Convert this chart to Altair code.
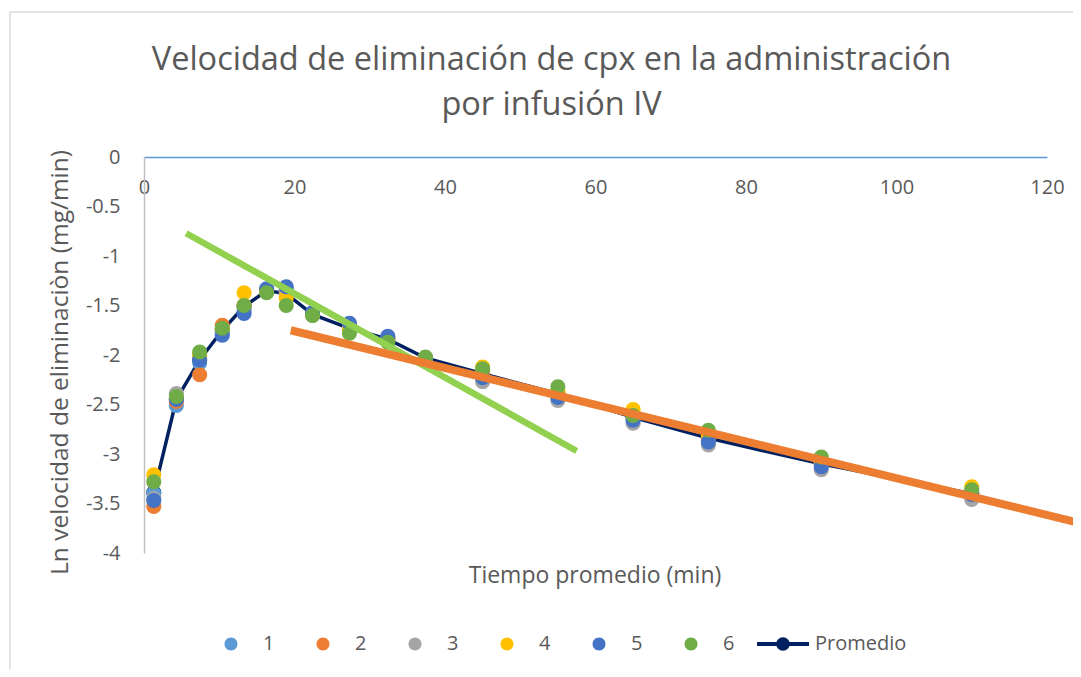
import altair as alt
import pandas as pd

# ---- data ----
times = [1.3, 4.3, 7.4, 10.4, 13.3, 16.3, 18.9, 22.4, 27.3, 32.4, 37.4, 45, 55, 65, 75, 90, 110]
series_names = ["1", "2", "3", "4", "5", "6"]
s1 = [-3.40, -2.51, -2.08, -1.77, -1.55, -1.34, -1.33, -1.58, -1.70, -1.82, -2.03, -2.20, -2.40, -2.64, -2.86, -3.10, -3.42]
s2 = [-3.53, -2.47, -2.20, -1.70, -1.50, -1.35, -1.36, -1.59, -1.74, -1.83, -2.03, -2.18, -2.38, -2.63, -2.83, -3.09, -3.40]
s3 = [-3.45, -2.39, -2.01, -1.74, -1.52, -1.35, -1.38, -1.60, -1.75, -1.86, -2.04, -2.27, -2.46, -2.69, -2.91, -3.16, -3.46]
s4 = [-3.21, -2.44, -2.00, -1.74, -1.37, -1.36, -1.42, -1.59, -1.74, -1.85, -2.03, -2.12, -2.36, -2.55, -2.80, -3.08, -3.33]
s5 = [-3.47, -2.45, -2.05, -1.80, -1.58, -1.33, -1.31, -1.57, -1.68, -1.81, -2.03, -2.23, -2.43, -2.66, -2.88, -3.13, -3.41]
s6 = [-3.28, -2.42, -1.97, -1.73, -1.50, -1.37, -1.50, -1.60, -1.78, -1.87, -2.02, -2.14, -2.32, -2.61, -2.76, -3.03, -3.36]
promedio = [-3.39, -2.45, -2.05, -1.75, -1.51, -1.35, -1.38, -1.59, -1.73, -1.84, -2.03, -2.19, -2.39, -2.63, -2.84, -3.10, -3.40]

trend_fast_t = [5.6, 57.5]
trend_fast_v = [-0.77, -2.97]
trend_slow_t = [19.5, 124.5]
trend_slow_v = [-1.75, -3.70]

x_ticks = [0, 20, 40, 60, 80, 100, 120]
y_ticks = [0, -0.5, -1, -1.5, -2, -2.5, -3, -3.5, -4]

colors = ["#5B9BD5", "#ED7D31", "#A5A5A5", "#FFC000", "#4472C4", "#70AD47"]
prom_color = "#002060"

rows = []
for name, vals in zip(series_names, [s1, s2, s3, s4, s5, s6]):
    for t, v in zip(times, vals):
        rows.append({"t": t, "v": v, "serie": name})
pts = pd.DataFrame(rows)
prom = pd.DataFrame({"t": times, "v": promedio})
fast = pd.DataFrame({"t": trend_fast_t, "v": trend_fast_v})
slow = pd.DataFrame({"t": trend_slow_t, "v": trend_slow_v})

W, H = 903, 396
GREY = "#595959"

x_enc = alt.X(
    "t:Q",
    scale=alt.Scale(domain=[0, 120], nice=False),
    axis=alt.Axis(
        orient="bottom", offset=-H, values=x_ticks, ticks=False, tickSize=0,
        labelPadding=20, labelFontSize=20, labelColor=GREY, labelFont="Open Sans",
        labelFlush=False,
        domainColor="#5B9BD5", domainWidth=1.5, grid=False,
        title="Tiempo promedio (min)", titleX=W / 2 - 1, titleY=418,
        titleBaseline="middle", titleFontSize=23, titleColor=GREY,
        titleFontWeight="normal", titleFont="Open Sans",
    ),
)
y_enc = alt.Y(
    "v:Q",
    scale=alt.Scale(domain=[-4, 0], nice=False),
    axis=alt.Axis(
        values=y_ticks, labelExpr="'' + datum.value", ticks=False, tickSize=0,
        labelPadding=24, labelFontSize=20, labelColor=GREY, labelFont="Open Sans",
        domainColor="#BFBFBF", domainWidth=1.5, grid=False,
        title="Ln velocidad de eliminaciòn (mg/min)", titleX=-84, titleY=205,
        titleAngle=270, titleAlign="center", titleBaseline="middle",
        titleFontSize=24.5, titleColor=GREY, titleFontWeight="normal",
        titleFont="Open Sans",
    ),
)

circ = "M0.25,0 A0.25,0.25 0 1,1 -0.25,0 A0.25,0.25 0 1,1 0.25,0 Z"
prom_sym = ("M-1,-0.075 L-0.2,-0.075 L-0.2,0.075 L-1,0.075 Z "
            "M0.2,-0.075 L1,-0.075 L1,0.075 L0.2,0.075 Z "
            "M0.26,0 A0.26,0.26 0 1,1 -0.26,0 A0.26,0.26 0 1,1 0.26,0 Z")
legend_names = series_names + ["Promedio"]
leg = alt.Legend(
    orient="none", legendX=61, legendY=461, direction="horizontal", title=None,
    symbolSize=2704, labelFontSize=20, labelColor=GREY, labelFont="Open Sans",
    labelOffset=6, columnPadding=22, symbolOpacity=1, symbolStrokeWidth=0,
)

border_df = pd.DataFrame({"k": [0]})
border_top = alt.Chart(border_df).mark_rule(color="#D9D9D9", strokeWidth=1.5).encode(
    x=alt.value(-134), x2=alt.value(940), y=alt.value(-145))
border_left = alt.Chart(border_df).mark_rule(color="#D9D9D9", strokeWidth=1.5).encode(
    x=alt.value(-134), y=alt.value(-145), y2=alt.value(525))

prom_line = alt.Chart(prom).mark_line(color=prom_color, strokeWidth=3.5).encode(x=x_enc, y=y_enc)
prom_pts = alt.Chart(prom).mark_point(
    filled=True, shape="circle", size=170, fill="#2F5597", stroke=prom_color,
    strokeWidth=2, opacity=1).encode(x=x_enc, y=y_enc)

points = alt.Chart(pts).mark_point(filled=True, opacity=1, size=3600).encode(
    x=x_enc, y=y_enc,
    color=alt.Color("serie:N", scale=alt.Scale(domain=legend_names, range=colors + [prom_color]), legend=leg),
    shape=alt.Shape("serie:N", scale=alt.Scale(domain=legend_names, range=[circ] * 6 + [prom_sym]), legend=leg),
)

fast_line = alt.Chart(fast).mark_line(color="#92D050", strokeWidth=6.5, strokeCap="butt").encode(x=x_enc, y=y_enc)
slow_line = alt.Chart(slow).mark_line(color="#ED7D31", strokeWidth=8, strokeCap="butt").encode(x=x_enc, y=y_enc)

chart = alt.layer(
    border_top, border_left, prom_line, prom_pts, points, fast_line, slow_line
).properties(
    width=W, height=H,
    padding={"left": 136, "top": 149, "right": 26, "bottom": 116},
    autosize=alt.AutoSizeParams(type="none"),
    title=alt.TitleParams(
        text=["Velocidad de eliminación de cpx en la administración", "por infusión IV"],
        fontSize=32.5, font="Open Sans", fontWeight="normal", color=GREY,
        anchor="middle", dx=-44, offset=-110, lineHeight=45,
    ),
).configure(font="Open Sans").configure_view(strokeWidth=0)

chart.save("out.html", embed_options={"renderer": "svg", "actions": False})
